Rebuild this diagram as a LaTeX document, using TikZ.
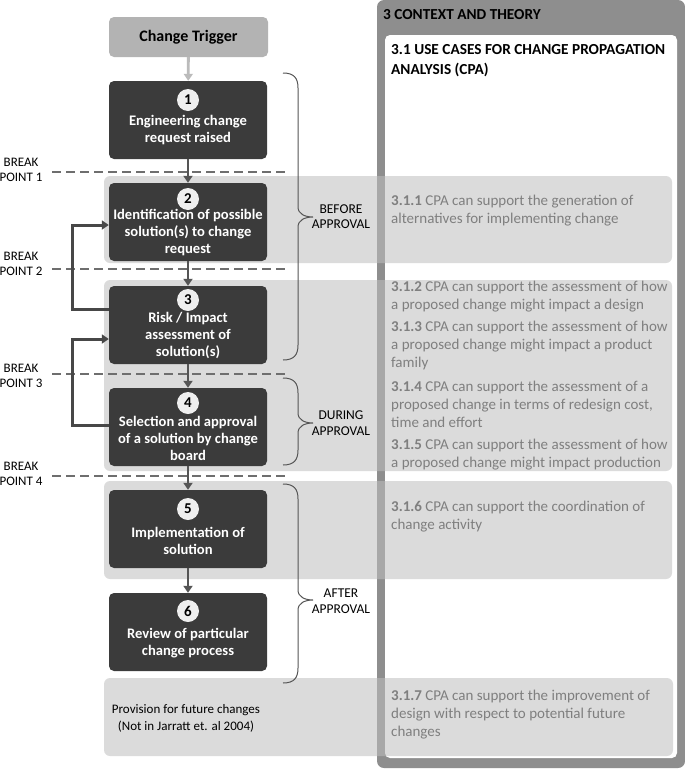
\documentclass[tikz,border=0pt]{standalone}
\usepackage{fontspec}
\setmainfont{Carlito}
\usetikzlibrary{arrows.meta}
\definecolor{boxdark}{HTML}{3B3B3B}
\definecolor{flowcol}{HTML}{555555}
\definecolor{loopcol}{HTML}{474747}
\definecolor{trigfill}{HTML}{B3B3B3}
\definecolor{trigarrow}{HTML}{BBBBBB}
\definecolor{bandcol}{HTML}{BFBFBF}
\definecolor{framecol}{HTML}{8E8E8E}
\definecolor{itemcol}{HTML}{7F7F7F}
\definecolor{bracecol}{HTML}{555555}
\definecolor{dashcol}{HTML}{6E6E6E}
\definecolor{numfill}{HTML}{EFEFEF}
\begin{document}
\begin{tikzpicture}[x=1pt,y=-1pt,
  stepbox/.style={draw=none,fill=boxdark,rounded corners=5pt,minimum width=158pt,minimum height=78pt,inner sep=0pt},
  num/.style={circle,fill=numfill,minimum size=22pt,inner sep=0pt,font=\fontsize{15}{15}\selectfont\bfseries,text=black},
  boxtxt/.style={align=center,inner sep=0pt,text=white,font=\fontsize{14.6}{17}\selectfont\bfseries},
  flow/.style={draw=flowcol,line width=2.8pt,-{Triangle[width=9pt,length=7pt]}},
  tflow/.style={draw=trigarrow,line width=2.8pt,-{Triangle[width=9pt,length=7pt]}},
  loopline/.style={draw=loopcol,line width=3pt,-{Triangle[width=9pt,length=7pt]}},
  band/.style={fill=bandcol,fill opacity=0.55,rounded corners=6pt},
  bpline/.style={draw=dashcol,line width=1.2pt,dash pattern=on 9pt off 5pt},
  bptxt/.style={align=center,inner sep=0pt,font=\fontsize{13}{15.5}\selectfont},
  brc/.style={draw=bracecol,line width=1pt},
  phase/.style={align=center,inner sep=0pt,font=\fontsize{13.5}{15.5}\selectfont},
  item/.style={anchor=north west,align=left,inner sep=0pt,text=itemcol,font=\fontsize{15}{18}\selectfont},
  ttl/.style={anchor=north west,align=left,inner sep=0pt,text=black,font=\fontsize{15.3}{20}\selectfont\bfseries}]
\useasboundingbox (0,0) rectangle (685,769);
\fill[white] (0,0) rectangle (685,769);

% right frame
\fill[framecol,rounded corners=7pt] (377,0) rectangle (685,768);
\fill[white,rounded corners=5pt] (385,35) rectangle (677,758);
\node[ttl] (t3) at (383,9) {3 CONTEXT AND THEORY};
\node[ttl] (t31) at (391,44) {3.1 USE CASES FOR CHANGE PROPAGATION\\ANALYSIS (CPA)};

% bands
\path[band] (104,176) rectangle (672,263);
\path[band] (104,280) rectangle (672,471);
\path[band] (104,481) rectangle (672,579);
\path[band] (104,678) rectangle (673,756);

% break points
\draw[bpline] (52,172) -- (288,172);
\draw[bpline] (52,269) -- (288,269);
\draw[bpline] (52,374) -- (288,374);
\draw[bpline] (52,476) -- (288,476);
\node[bptxt] (bp1) at (21,170) {BREAK\\POINT 1};
\node[bptxt] (bp2) at (21,264) {BREAK\\POINT 2};
\node[bptxt] (bp3) at (21,376) {BREAK\\POINT 3};
\node[bptxt] (bp4) at (21,474) {BREAK\\POINT 4};

% trigger
\node[fill=trigfill,rounded corners=5pt,minimum width=159pt,minimum height=40pt,inner sep=0pt,font=\fontsize{16}{16}\selectfont\bfseries] (trig) at (188.5,37) {Change Trigger};

% boxes
\node[stepbox] (b1) at (188,120) {};
\node[stepbox] (b2) at (188,222) {};
\node[stepbox] (b3) at (188,325) {};
\node[stepbox] (b4) at (188,427) {};
\node[stepbox] (b5) at (188,529) {};
\node[stepbox] (b6) at (188,632) {};

\node[num] (n1) at (188,100) {1};
\node[num] (n2) at (188,199) {2};
\node[num] (n3) at (188,300) {3};
\node[num] (n4) at (188,403) {4};
\node[num] (n5) at (188,509) {5};
\node[num] (n6) at (188,611) {6};

\node[boxtxt] (x1) at (188,130.5) {Engineering change\\request raised};
\node[boxtxt] (x2) at (188,233) {Identification of possible\\solution(s) to change\\request};
\node[boxtxt] (x3) at (188,335.5) {Risk / Impact\\assessment of\\solution(s)};
\node[boxtxt] (x4) at (188,438.5) {Selection and approval\\of a solution by change\\board};
\node[boxtxt] (x5) at (188,540.5) {Implementation of\\solution};
\node[boxtxt] (x6) at (188,643.5) {Review of particular\\change process};

% arrows
\draw[tflow] (trig) -- (b1);
\draw[flow] (b1) -- (b2);
\draw[flow] (b2) -- (b3);
\draw[flow] (b3) -- (b4);
\draw[flow] (b4) -- (b5);
\draw[flow] (b5) -- (b6);
\draw[loopline] ([yshift=16pt]b3.west) -- ++(-36,0) |- ([yshift=-3pt]b2.west);
\draw[loopline] ([yshift=2pt]b4.west) -- ++(-36,0) |- ([yshift=-14pt]b3.west);

% braces
\newcommand{\vbrace}[3]{%
  \draw[brc] (283,#1) .. controls (294,#1) and (298,{#1+5}) .. (298,{#1+15})
    -- (298,{#3-10}) .. controls (298,{#3-3}) and (305,#3) .. (313,#3)
    .. controls (305,#3) and (298,{#3+3}) .. (298,{#3+10})
    -- (298,{#2-15}) .. controls (298,{#2-5}) and (294,#2) .. (283,#2);}
\vbrace{73}{360}{217}
\vbrace{378}{465}{423}
\vbrace{484}{683}{600}
\node[phase] (ph1) at (341,216.5) {BEFORE\\APPROVAL};
\node[phase] (ph2) at (341,423) {DURING\\APPROVAL};
\node[phase] (ph3) at (341,601) {AFTER\\APPROVAL};

% provision
\node[align=center,inner sep=0pt,font=\fontsize{13}{17}\selectfont] (prov) at (186,718.5) {Provision for future changes\\(Not in Jarratt et. al 2004)};

% items
\node[item] (i1) at (391,194.5) {\textbf{3.1.1} CPA can support the generation of\\alternatives for implementing change};
\node[item] (i2) at (391,280.5) {\textbf{3.1.2} CPA can support the assessment of how\\a proposed change might impact a design};
\node[item] (i3) at (391,320.5) {\textbf{3.1.3} CPA can support the assessment of how\\a proposed change might impact a product\\family};
\node[item] (i4) at (391,380.5) {\textbf{3.1.4} CPA can support the assessment of a\\proposed change in terms of redesign cost,\\time and effort};
\node[item] (i5) at (391,438.5) {\textbf{3.1.5} CPA can support the assessment of how\\a proposed change might impact production};
\node[item] (i6) at (391,500.5) {\textbf{3.1.6} CPA can support the coordination of\\change activity};
\node[item] (i7) at (391,689.5) {\textbf{3.1.7} CPA can support the improvement of\\design with respect to potential future\\changes};
\end{tikzpicture}
\end{document}
